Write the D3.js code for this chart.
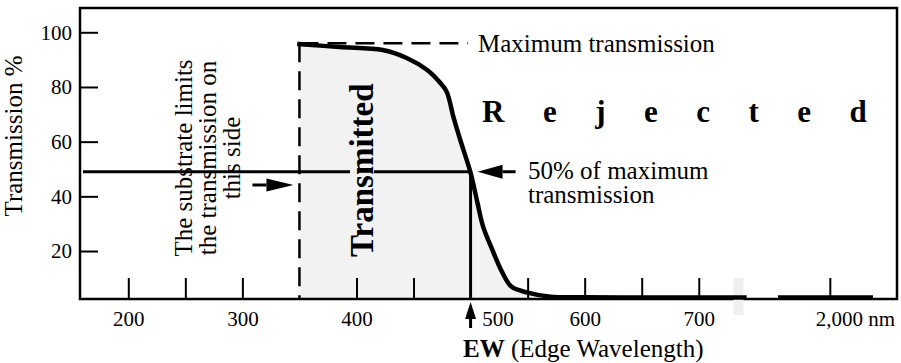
<!DOCTYPE html>
<html>
<head>
<meta charset="utf-8">
<script src="https://cdn.jsdelivr.net/npm/d3@7"></script>
<style>
  body { margin: 0; background: #fff; }
  svg { display: block; }
  svg text { font-family: "Liberation Serif", "Times New Roman", Times, serif; }
</style>
</head>
<body>
<svg id="chart" width="901" height="363"></svg>
<script>
// edge filter curve (wavelength nm, transmission %)
const waveNm   = [350, 385, 423, 444, 462, 473, 479, 485, 491, 500, 506, 511, 519, 528, 536, 550, 570, 600, 650, 700, 740];
const transPct = [95.7, 94.6, 93.5, 90.6, 86.2, 81.7, 78.3, 69.0, 60.6, 48.6, 37.7, 28.9, 20.5, 12.0, 6.9, 4.8, 3.3, 3.1, 3.0, 3.0, 3.0];
// far side of the axis break
const farWaveNm   = [1760, 2200];
const farTransPct = [3.0, 3.0];

const yTicks = [20, 40, 60, 80, 100];
const xTicks = [200, 250, 300, 400, 450, 500, 550, 600, 650, 700, 2000];
const xLabels = {200: '200', 300: '300', 400: '400', 500: '500', 600: '600', 700: '700', 2000: '2,000 nm'};

const maxTrans = 96;     // maximum transmission level
const halfTrans = 49;    // 50% of maximum, as drawn
const substrateNm = 350; // substrate cut-on
const edgeNm = 500;      // edge wavelength
const breakNm = 740;     // where the axis is broken

const SERIF = '"Liberation Serif", "Times New Roman", Times, serif';
const FRAME = {left: 80, top: 8, right: 897, bottom: 299};

const svg = d3.select('#chart');

// piecewise scale: linear 200-740, then a jump to the 2,000 nm region
const x = d3.scaleLinear()
  .domain([200, breakNm, 1760, 2200])
  .range([128.3, 744.4, 778, 873]);

const y = d3.scaleLinear()
  .domain([0, 100])
  .range([305.7, 32.3]);

const pts = waveNm.map((w, i) => [w, transPct[i]]);
const farPts = farWaveNm.map((w, i) => [w, farTransPct[i]]);

const smooth = d3.curveCatmullRom.alpha(0.5);

// gray transmitted area
const area = d3.area()
  .x(d => x(d[0]))
  .y0(FRAME.bottom)
  .y1(d => y(d[1]))
  .curve(smooth);

svg.append('path')
  .datum(pts)
  .attr('d', area)
  .attr('fill', '#f2f2f2');

// frame
svg.append('rect')
  .attr('x', FRAME.left)
  .attr('y', FRAME.top)
  .attr('width', FRAME.right - FRAME.left)
  .attr('height', FRAME.bottom - FRAME.top)
  .attr('fill', 'none')
  .attr('stroke', '#000')
  .attr('stroke-width', 2.5);

// AXES //
const yAxis = svg.append('g')
  .attr('transform', `translate(${FRAME.left},0)`)
  .call(d3.axisLeft(y).tickValues(yTicks).tickSize(-18).tickPadding(8));
yAxis.attr('font-family', SERIF).attr('font-size', 21);
yAxis.select('.domain').remove();
yAxis.selectAll('line').attr('stroke-width', 2);
yAxis.selectAll('text').attr('fill', '#000').style('font-family', SERIF);

const xAxis = svg.append('g')
  .attr('transform', `translate(0,${FRAME.bottom})`)
  .call(d3.axisBottom(x).tickValues(xTicks).tickSize(-21).tickPadding(12)
    .tickFormat(d => xLabels[d] || ''));
xAxis.attr('font-family', SERIF).attr('font-size', 21);
xAxis.select('.domain').remove();
xAxis.selectAll('line').attr('stroke-width', 2);
xAxis.selectAll('.tick').filter(d => d === edgeNm).select('line').remove();
xAxis.selectAll('text').attr('fill', '#000').style('font-family', SERIF);
xAxis.selectAll('.tick').filter(d => d === edgeNm).select('text').attr('dx', 27);
xAxis.selectAll('.tick').filter(d => d === 2000).select('text').attr('dx', 25);

// axis break marker
svg.append('rect')
  .attr('x', x(breakNm) - 11)
  .attr('y', FRAME.bottom - 21)
  .attr('width', 10)
  .attr('height', 37)
  .attr('fill', '#f0f0f0');

// axis titles
svg.append('text')
  .attr('transform', `translate(22,136) rotate(-90)`)
  .style('text-anchor', 'middle')
  .style('font-size', '25px')
  .text('Transmission %');

const ew = svg.append('text')
  .attr('x', 463)
  .attr('y', 357)
  .style('font-size', '25px');
ew.append('tspan').style('font-weight', 'bold').text('EW');
ew.append('tspan').text(' (Edge Wavelength)');

// 50% line
const yHalf = y(halfTrans);
svg.append('line')
  .attr('x1', FRAME.left + 3).attr('x2', x(edgeNm))
  .attr('y1', yHalf).attr('y2', yHalf)
  .attr('stroke', '#000').attr('stroke-width', 3);

// edge wavelength line
svg.append('line')
  .attr('x1', x(edgeNm)).attr('x2', x(edgeNm))
  .attr('y1', yHalf).attr('y2', FRAME.bottom)
  .attr('stroke', '#000').attr('stroke-width', 3);

// substrate dashed line
svg.append('line')
  .attr('x1', x(substrateNm)).attr('x2', x(substrateNm))
  .attr('y1', y(maxTrans)).attr('y2', FRAME.bottom)
  .attr('stroke', '#000').attr('stroke-width', 2.5)
  .attr('stroke-dasharray', '19,9');

// maximum transmission dashed line
svg.append('line')
  .attr('x1', x(substrateNm)).attr('x2', 468)
  .attr('y1', y(maxTrans)).attr('y2', y(maxTrans))
  .attr('stroke', '#000').attr('stroke-width', 2.5)
  .attr('stroke-dasharray', '19,9');

// transmission curve
const line = d3.line()
  .x(d => x(d[0]))
  .y(d => y(d[1]))
  .curve(smooth);

svg.append('path')
  .datum(pts)
  .attr('d', line)
  .attr('fill', 'none')
  .attr('stroke', '#000')
  .attr('stroke-width', 4.5)
  .attr('stroke-linecap', 'square')
  .attr('stroke-linejoin', 'round');

svg.append('path')
  .datum(farPts)
  .attr('d', line)
  .attr('fill', 'none')
  .attr('stroke', '#000')
  .attr('stroke-width', 4.5);

// "Transmitted" with a gray backing that cuts the 50% line
const tg = svg.append('g')
  .attr('transform', `translate(373,257) rotate(-90)`);
const tbg = tg.append('rect');
const tt = tg.append('text')
  .style('font-size', '33px')
  .style('font-weight', 'bold')
  .text('Transmitted');
const tlen = tt.node().getComputedTextLength();
tbg.attr('x', -2).attr('y', -23).attr('width', tlen + 4).attr('height', 24).attr('fill', '#f2f2f2');

// substrate note
const sub = svg.append('g')
  .attr('transform', `translate(192,158) rotate(-90)`);
['The substrate limits', 'the transmission on', 'this side'].forEach((s, i) => {
  sub.append('text')
    .attr('x', 0)
    .attr('y', i * 24)
    .style('text-anchor', 'middle')
    .style('font-size', '25px')
    .text(s);
});

// Rejected, spread letter by letter
const rej = svg.append('text')
  .attr('x', 482)
  .attr('y', 122)
  .style('font-size', '31px')
  .style('font-weight', 'bold');
rej.selectAll('tspan')
  .data('Rejected'.split(''))
  .enter()
  .append('tspan')
  .attr('dx', (d, i) => i === 0 ? 0 : 38.5)
  .text(d => d);

// maximum transmission label
svg.append('text')
  .attr('x', 478)
  .attr('y', 52)
  .style('font-size', '25px')
  .text('Maximum transmission');

// 50% label
const half = svg.append('text')
  .attr('x', 528)
  .attr('y', 179)
  .style('font-size', '25px');
half.append('tspan').attr('x', 528).text('50% of maximum');
half.append('tspan').attr('x', 528).attr('dy', 24).text('transmission');

// arrows
function arrow(tipX, tipY, dirX, dirY, len, head, half) {
  const bx = tipX - dirX * head, by = tipY - dirY * head;
  const px = -dirY, py = dirX;
  svg.append('line')
    .attr('x1', bx).attr('y1', by)
    .attr('x2', tipX - dirX * len).attr('y2', tipY - dirY * len)
    .attr('stroke', '#000').attr('stroke-width', 3);
  svg.append('path')
    .attr('d', `M${tipX},${tipY}L${bx + px * half},${by + py * half}L${bx - px * half},${by - py * half}Z`)
    .attr('fill', '#000');
}

arrow(x(edgeNm) + 7, yHalf, -1, 0, 38, 25, 7);    // points at the curve
arrow(x(substrateNm) - 6, 185, 1, 0, 41, 27, 6.5); // points at the substrate line
arrow(x(edgeNm), FRAME.bottom + 3, 0, -1, 26, 17, 5.5); // EW marker
</script>
</body>
</html>
